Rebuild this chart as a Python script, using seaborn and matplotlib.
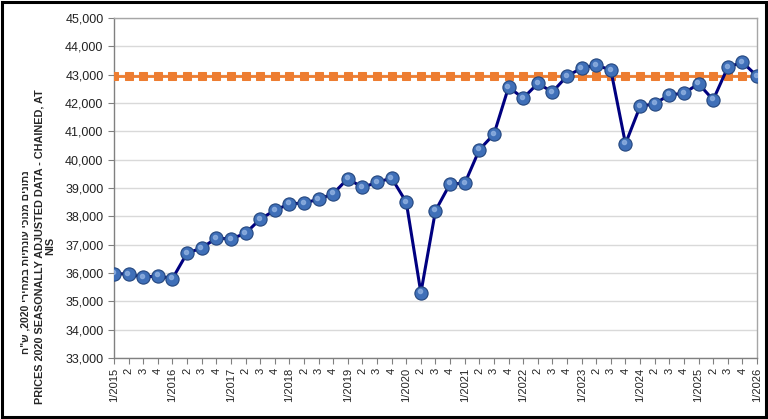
import pandas as pd
import seaborn as sns
import matplotlib.pyplot as plt
from matplotlib.patches import Rectangle
from matplotlib.ticker import FuncFormatter

#%% data
quarters = ['1/2015', '2', '3', '4',
            '1/2016', '2', '3', '4',
            '1/2017', '2', '3', '4',
            '1/2018', '2', '3', '4',
            '1/2019', '2', '3', '4',
            '1/2020', '2', '3', '4',
            '1/2021', '2', '3', '4',
            '1/2022', '2', '3', '4',
            '1/2023', '2', '3', '4',
            '1/2024', '2', '3', '4',
            '1/2025', '2', '3', '4',
            '1/2026']

gdp_per_capita = [35980, 35960, 35850, 35900,
                  35800, 36700, 36880, 37230,
                  37200, 37400, 37900, 38210,
                  38440, 38470, 38600, 38800,
                  39330, 39020, 39200, 39350,
                  38500, 35300, 38200, 39150,
                  39160, 40350, 40900, 42560,
                  42170, 42690, 42390, 42950,
                  43230, 43340, 43160, 40560,
                  41880, 41970, 42290, 42340,
                  42680, 42110, 43260, 43440,
                  42950]

reference_level = 42950
reference_line = [reference_level] * len(quarters)

yticks = list(range(33000, 46000, 1000))

# hebrew line typed in visual order (matplotlib has no bidi)
ylabel_he = 'ח"ש ,2020 יריחמב תויתנוע יכונמ םינותנ'
ylabel_en = 'PRICES 2020 SEASONALLY ADJUSTED DATA - CHAINED, AT\nNIS'

#%% plot
sns.set_style('white')
plt.rcParams['font.family'] = ['Liberation Sans', 'DejaVu Sans']

df = pd.DataFrame({'pos': range(len(quarters)),
                   'value': gdp_per_capita,
                   'ref': reference_line})

fig = plt.figure(figsize=(7.68, 4.19), dpi=100)
ax = fig.add_axes([0.1484, 0.1456, 0.8373, 0.8115])

ax.yaxis.grid(True, color='#d9d9d9', linewidth=1)
ax.set_axisbelow(True)

sns.lineplot(data=df, x='pos', y='ref', ax=ax, color='#ed7d31', linewidth=2,
             marker='s', markersize=6, markeredgecolor='#ed7d31', zorder=3)
sns.lineplot(data=df, x='pos', y='value', ax=ax, color='#000080', linewidth=2.2,
             marker='o', markersize=9.5, markerfacecolor='#3f6fb8',
             markeredgecolor='#23467e', markeredgewidth=0.8, zorder=4)
# small highlight to give the balls some shine
ax.plot(df['pos'] - 0.08, df['value'] + 50, linestyle='none', marker='o',
        markersize=3, color='#8fb0e0', alpha=0.8, zorder=5)

ax.set_xlim(0, len(quarters) - 1)
ax.set_ylim(33000, 45000)
ax.set_yticks(yticks)
ax.yaxis.set_major_formatter(FuncFormatter(lambda v, p: f'{int(v):,}'))
ax.set_xticks(range(len(quarters)))
ax.set_xticklabels(quarters, rotation=90, fontsize=8, color='#222222')
ax.tick_params(axis='y', labelsize=9, colors='#222222', length=4,
               direction='out', left=True, color='#808080')
ax.tick_params(axis='x', length=4, direction='out', bottom=True,
               color='#808080', pad=3)
for t in ax.get_yticklabels():
    t.set_color('#222222')

ax.set_xlabel('')
ax.set_ylabel('')
for side in ['left', 'bottom']:
    ax.spines[side].set_color('#808080')
    ax.spines[side].set_linewidth(1)
for side in ['top', 'right']:
    ax.spines[side].set_visible(True)
    ax.spines[side].set_color('#a6a6a6')
    ax.spines[side].set_linewidth(1)

fig.text(0.0326, 0.375, ylabel_he, rotation=90, fontsize=7.5, fontweight='bold',
         ha='center', va='center')
fig.text(0.0586, 0.412, ylabel_en, rotation=90, fontsize=7.8, fontweight='bold',
         ha='center', va='center', multialignment='center', linespacing=1.15)

fig.patches.append(Rectangle((0.002, 0.004), 0.995, 0.991, transform=fig.transFigure,
                             fill=False, edgecolor='black', linewidth=2.2))

fig.savefig('out.png', dpi=100)
